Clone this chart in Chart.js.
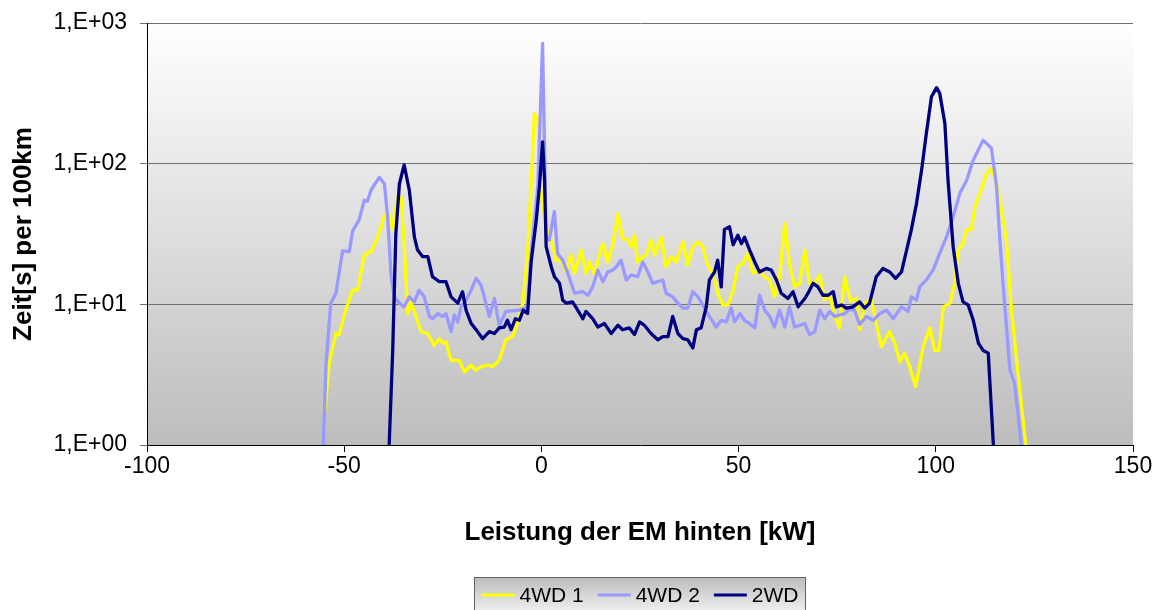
<!DOCTYPE html>
<html>
<head>
<meta charset="utf-8">
<script src="https://cdn.jsdelivr.net/npm/chart.js@4"></script>
<style>
  body { margin: 0; background: #fff; }
  #wrap { width: 1166px; height: 610px; position: relative; }
</style>
</head>
<body>
<div id="wrap"><canvas id="graphCanvas"></canvas></div>
<script>
// Legend names
const seriesNames = ['4WD 1', '4WD 2', '2WD'];

// 4WD 1 (gelb)
const x4wd1 = [-54.8, -53.8, -52.1, -51.3, -49.6, -47.9, -46.6, -44.9, -43.2, -41.5, -39.8, -38.6, -37.7, -36.5, -35.6, -34.8, -33.9, -33.1, -31.8, -30.5, -28.8, -27.2, -25.9, -25, -24.2, -22.9, -20.8, -19.5, -17.8, -16.6, -15.3, -13.6, -12.4, -10.7, -9, -7.3, -6, -4.7, -3.5, -2.2, -1.8, -0.9, -0.1, 1.2, 2.5, 3.7, 5, 6.3, 7.5, 8.4, 10.1, 11.3, 12.2, 13.5, 14.7, 15.6, 16.8, 18.1, 19.4, 20.6, 21.9, 22.8, 23.6, 24.4, 25.7, 26.6, 27.8, 28.7, 30.4, 31.6, 32.9, 34.2, 35.9, 37.1, 38.4, 39.7, 40.9, 42.2, 43.5, 44.7, 46, 47.3, 48.6, 49.8, 51.1, 52.4, 53.6, 55.3, 56.6, 57.9, 59.1, 60.4, 61.7, 62.9, 64.2, 65.5, 66.8, 68, 69.3, 70.6, 71.8, 73.1, 74.4, 75.6, 76.9, 78.4, 79.9, 80.7, 82, 83.7, 84.9, 86.2, 88.3, 89.6, 90.9, 92.1, 93.4, 94.9, 96.8, 98.5, 99.7, 100.8, 101.9, 103.6, 104.8, 105.7, 106.9, 107.8, 109, 109.9, 111.2, 112.9, 114.1, 115.8, 117.9, 119.2, 120.5, 122.8];
const y4wd1 = [1.8, 3.8, 6.2, 6.1, 9.1, 12.6, 12.6, 22.4, 23.7, 30, 43, 44, 34, 57, 58, 27, 8.6, 10.4, 8.2, 6.4, 6.2, 5.1, 5.7, 5.3, 5.4, 4.0, 4.0, 3.3, 3.7, 3.4, 3.6, 3.7, 3.6, 4.0, 5.6, 5.9, 7.3, 10.2, 23, 118, 228, 204, 61, 35.6, 28.6, 20.6, 20.6, 17, 22.4, 16.6, 24.3, 16.6, 20, 16.2, 22.4, 27, 20, 26.5, 44, 29.3, 28.6, 25.7, 31, 20, 21.8, 22.4, 28.6, 22.4, 30, 18.5, 21.8, 20, 27.8, 19, 25.7, 27.8, 25.7, 19, 16.6, 12, 9.9, 9.9, 12.6, 18.5, 19.6, 23, 16.6, 17.5, 15.7, 14.9, 11.3, 15.7, 37.7, 19.6, 13.3, 14.1, 24.3, 14.1, 14.1, 16.2, 10.7, 11.6, 8.2, 6.8, 15.7, 10.5, 11, 6.6, 10.2, 10.7, 7.3, 5.0, 6.4, 5.3, 3.9, 4.5, 3.6, 2.6, 5.0, 6.8, 4.7, 4.7, 9.6, 10.2, 14.1, 24.3, 27, 34, 34, 49, 61.5, 85, 93, 65, 28.6, 9.1, 4.0, 1.0];

// 4WD 2 (hellblau)
const x4wd2 = [-55.3, -54.6, -53.4, -52.1, -50.4, -48.7, -47.9, -46.2, -44.9, -44.1, -43.2, -41.1, -39.8, -39, -38.1, -37.3, -36, -34.8, -33.5, -32.2, -31, -29.7, -28.4, -27.6, -26.3, -25, -24.2, -22.9, -22.1, -21.2, -20.4, -19.1, -17.8, -16.6, -15.3, -14.5, -13.2, -11.9, -10.7, -9, -5.6, -3.5, -2.6, -0.9, 0.3, 1.2, 2, 3.3, 4.1, 5.4, 6.7, 8.4, 10.5, 11.8, 13, 14.3, 15.6, 16.8, 18.1, 19, 20.2, 21.5, 22.8, 24.4, 25.7, 27, 28.2, 29.5, 30.8, 31.6, 33.3, 34.6, 35.9, 37.1, 38.4, 39.7, 40.9, 42.6, 44.3, 45.6, 46.9, 48.1, 49, 50.3, 51.5, 52.8, 54.1, 55.3, 56.6, 57.9, 59.1, 60.4, 61.7, 62.9, 64.2, 65.5, 66.8, 68, 69.3, 70.6, 71.8, 73.1, 74.4, 75.6, 76.9, 78.2, 79.4, 80.7, 82.4, 84.1, 85.8, 87.5, 89.2, 91.3, 93, 93.8, 95.1, 95.9, 97.6, 99.3, 101, 102.7, 104.4, 106.1, 107.8, 109.5, 112, 114.1, 115.4, 116.2, 117.1, 118.8, 120, 121.7];
const y4wd2 = [1.0, 3.8, 10.2, 12, 24, 23.7, 33, 40, 55, 54, 65, 80, 72, 42, 15.7, 11.3, 10.2, 9.6, 11.3, 10.4, 12.6, 11.3, 8.2, 7.9, 8.6, 8.2, 8.6, 6.4, 8.4, 7.5, 9.6, 10.7, 12.6, 15.3, 13.7, 11.3, 8.2, 11, 7.1, 8.9, 9.1, 9.6, 23, 69, 716, 30, 28.6, 45.6, 23, 20.6, 16.6, 12, 12.3, 11.6, 13.3, 17.5, 14.5, 17, 17.5, 18.5, 20.6, 14.9, 16.2, 15.7, 20, 17, 14.1, 14.5, 14.9, 12, 11.3, 10.2, 9.4, 9.4, 12.3, 11.3, 9.9, 8.2, 6.9, 7.7, 7.5, 9.4, 7.5, 8.6, 7.7, 7.3, 6.8, 11.6, 9.1, 8.2, 6.9, 9.1, 6.9, 9.6, 6.9, 7.1, 7.3, 6.1, 6.4, 9.1, 7.9, 8.9, 8.2, 8.4, 8.6, 9.2, 9.1, 7.2, 8.2, 7.7, 8.6, 9.1, 7.9, 9.6, 8.9, 11.3, 10.7, 13.3, 14.9, 17.5, 23, 30, 42, 61.5, 76, 106, 147, 129, 69, 30, 13.3, 3.4, 2.75, 1.0];

// 2WD (dunkelblau)
const x2wd = [-38.6, -37.7, -36.9, -36, -34.8, -33.5, -32.2, -31.4, -30.1, -28.8, -27.6, -25.9, -24.2, -22.9, -21.2, -20, -19.1, -17.8, -16.2, -14.9, -13.2, -11.9, -10.7, -9.4, -8.6, -7.7, -6.6, -5.6, -4.6, -3.5, -2.6, -1.3, -0.5, 0.3, 0.8, 1.2, 2.5, 3.3, 4.6, 5.4, 6.3, 7.9, 9.2, 10.5, 11.3, 13, 14.3, 16, 17.7, 19.4, 20.6, 22.3, 23.6, 24.9, 26.1, 27.8, 29.5, 30.8, 32.1, 33.3, 34.6, 35.9, 37.1, 38.4, 39.3, 40.5, 41.8, 42.6, 43.9, 44.7, 45.6, 46.4, 47.7, 48.6, 49.8, 50.7, 51.5, 52.8, 54.1, 55.3, 57, 58.3, 59.6, 60.8, 62.5, 63.8, 65.1, 66.8, 67.6, 68.9, 70.1, 71.4, 72.7, 74, 74.8, 76.1, 77.3, 79, 80.7, 82, 83.2, 84.9, 86.6, 88.3, 89.8, 91.3, 92.6, 93.8, 95.1, 96.4, 97.6, 98.9, 100.2, 101, 102.3, 103.1, 104.4, 105.7, 106.9, 108.2, 109.5, 110.8, 112, 113.3, 114.6];
const y2wd = [1.0, 4.7, 32, 72, 98, 65, 30, 24.3, 21.8, 21.8, 15.7, 14.5, 14.5, 11.3, 10.2, 12.3, 9.1, 7.3, 6.4, 5.7, 6.4, 6.2, 6.8, 6.9, 7.7, 6.6, 7.9, 7.7, 9.1, 8.6, 20, 39.7, 69, 143, 76, 25.7, 18.5, 15.7, 14.1, 10.7, 10.2, 10.4, 9.1, 7.9, 8.9, 7.9, 6.9, 7.3, 6.2, 7.1, 6.6, 6.8, 6.1, 7.5, 7.1, 6.2, 5.6, 5.9, 5.9, 8.2, 6.2, 5.7, 5.6, 4.9, 6.6, 6.8, 9.6, 14.9, 17, 20.6, 13.3, 34, 35.6, 26.5, 31, 27, 30, 24.3, 20, 17, 18, 17.5, 14.9, 12, 11, 12.3, 9.6, 11, 12, 14.1, 13.3, 11.6, 11.6, 12.3, 9.6, 9.9, 9.4, 9.6, 10.4, 9.4, 10.2, 15.7, 18, 17, 15.3, 17, 24.3, 34, 52, 90, 164, 299, 347, 316, 193, 76, 25.7, 14.1, 10.4, 9.9, 7.7, 5.3, 4.7, 4.5, 1.0];

// Achsen
const xTicks = [-100, -50, 0, 50, 100, 150];
const yTicks = [1, 10, 100, 1000];
const yTickLabels = ['1,E+00', '1,E+01', '1,E+02', '1,E+03'];
const xTitle = 'Leistung der EM hinten [kW]';
const yTitle = 'Zeit[s] per 100km';

const colors = ['#ffff00', '#9999ff', '#000080'];
const FONT = 'Liberation Sans, Arial, sans-serif';

const toPoints = (xs, ys) => xs.map((x, i) => ({x: x, y: ys[i]}));

// Hintergrund mit Verlauf
const bgPlugin = {
    id: 'bg',
    beforeDraw(chart) {
        const {ctx, chartArea: a} = chart;
        const g = ctx.createLinearGradient(0, a.top, 0, a.bottom);
        g.addColorStop(0, '#ffffff');
        g.addColorStop(1, '#bdbdbd');
        ctx.save();
        ctx.fillStyle = g;
        ctx.fillRect(a.left, a.top, a.right - a.left, a.bottom - a.top);
        ctx.restore();
    }
};

// Legende unten mit Rahmen
const legendPlugin = {
    id: 'boxLegend',
    afterDraw(chart) {
        const {ctx, chartArea: a} = chart;
        ctx.save();
        ctx.font = '21px ' + FONT;
        const lineW = 33, gap = 5, itemGap = 14, padX = 7;
        const items = chart.data.datasets.map(d => ({label: d.label, color: d.borderColor, w: ctx.measureText(d.label).width}));
        let total = padX * 2;
        items.forEach((it, i) => { total += lineW + gap + it.w + (i < items.length - 1 ? itemGap : 0); });
        const cx = (a.left + a.right) / 2;
        const left = Math.round(cx - total / 2) + 0.5;
        const top = 577.5;
        const g = ctx.createLinearGradient(0, top, 0, top + 36);
        g.addColorStop(0, '#bcbcbc');
        g.addColorStop(1, '#f2f2f2');
        ctx.fillStyle = g;
        ctx.fillRect(left, top, total, 40);
        ctx.strokeStyle = '#606060';
        ctx.lineWidth = 1;
        ctx.strokeRect(left, top, total, 40);
        let x = left + padX;
        const cy = 595;
        items.forEach(it => {
            ctx.strokeStyle = it.color;
            ctx.lineWidth = 3;
            ctx.beginPath();
            ctx.moveTo(x, cy);
            ctx.lineTo(x + lineW, cy);
            ctx.stroke();
            x += lineW + gap;
            ctx.fillStyle = '#000';
            ctx.textBaseline = 'middle';
            ctx.textAlign = 'left';
            ctx.fillText(it.label, x, cy + 1);
            x += it.w + itemGap;
        });
        ctx.restore();
    }
};

const ctx = document.getElementById('graphCanvas').getContext('2d');
const chart = new Chart(ctx, {
    type: 'line',
    data: {
        datasets: [
            {label: seriesNames[0], data: toPoints(x4wd1, y4wd1), borderColor: colors[0], order: 3},
            {label: seriesNames[1], data: toPoints(x4wd2, y4wd2), borderColor: colors[1], order: 2},
            {label: seriesNames[2], data: toPoints(x2wd, y2wd), borderColor: colors[2], order: 1}
        ]
    },
    options: {
        responsive: true,
        maintainAspectRatio: false,
        animation: false,
        devicePixelRatio: 1,
        elements: {
            line: {borderWidth: 3.3, tension: 0, fill: false, borderJoinStyle: 'round', borderCapStyle: 'round'},
            point: {radius: 0}
        },
        layout: {padding: {left: 0, right: 33, top: 23, bottom: 40}},
        plugins: {
            legend: {display: false},
            tooltip: {enabled: false}
        },
        scales: {
            x: {
                type: 'linear',
                min: xTicks[0],
                max: xTicks[xTicks.length - 1],
                afterBuildTicks: s => { s.ticks = xTicks.map(v => ({value: v})); },
                afterFit: s => { s.height = 125; s.paddingLeft = 0; s.paddingRight = 0; },
                grid: {drawOnChartArea: false, drawTicks: true, tickLength: 7, color: '#000'},
                border: {color: '#000', width: 1},
                ticks: {color: '#000', font: {family: FONT, size: 23}, padding: 1, maxRotation: 0},
                title: {display: true, text: xTitle, color: '#000', font: {family: FONT, size: 26, weight: 'bold'}, padding: {top: 0, bottom: 22}}
            },
            y: {
                type: 'logarithmic',
                min: yTicks[0],
                max: yTicks[yTicks.length - 1],
                afterBuildTicks: s => { s.ticks = yTicks.map(v => ({value: v})); },
                afterFit: s => { s.width = 147; s.paddingTop = 0; s.paddingBottom = 0; },
                grid: {color: '#707070', lineWidth: 1, tickLength: 7, drawTicks: true},
                border: {color: '#000', width: 1},
                ticks: {
                    color: '#000',
                    font: {family: FONT, size: 23},
                    padding: 13,
                    callback: (v) => yTickLabels[yTicks.indexOf(v)]
                },
                title: {display: true, text: yTitle, color: '#000', font: {family: FONT, size: 26, weight: 'bold'}, padding: {top: 8, bottom: 0}}
            }
        }
    },
    plugins: [bgPlugin, legendPlugin]
});
</script>
</body>
</html>
